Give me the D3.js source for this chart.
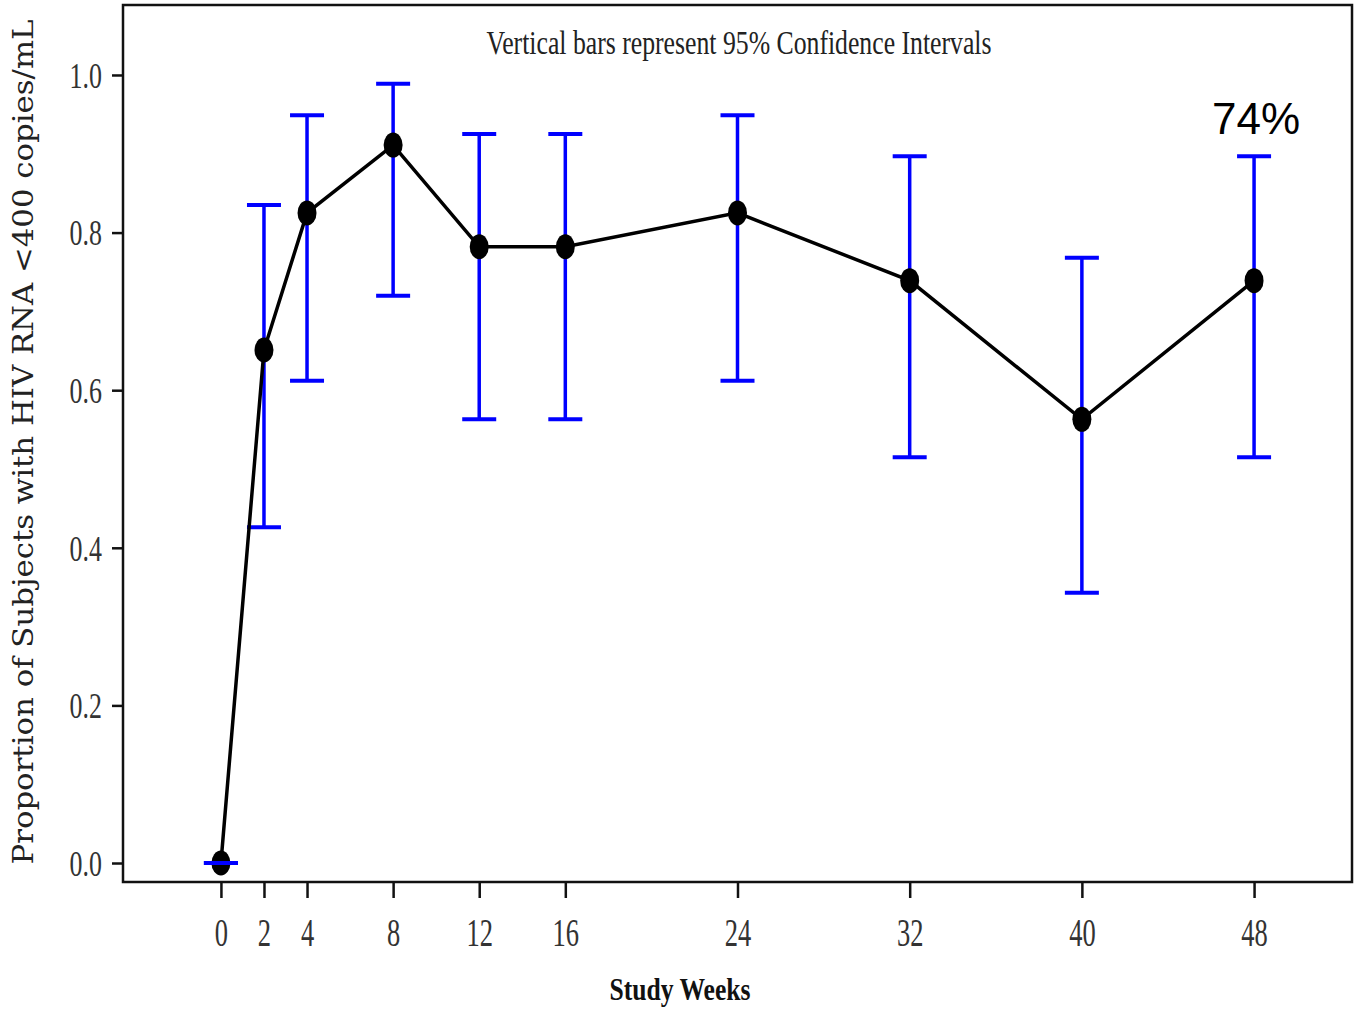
<!DOCTYPE html>
<html>
<head>
<meta charset="utf-8">
<script src="https://cdn.jsdelivr.net/npm/d3@7"></script>
<style>
  body { margin: 0; background: #fff; }
  svg { display: block; }
</style>
</head>
<body>
<div id="chart"></div>
<script>
// Data
const weeks = [0, 2, 4, 8, 12, 16, 24, 32, 40, 48];
const proportion = [0.0, 0.651, 0.825, 0.911, 0.782, 0.782, 0.825, 0.739, 0.563, 0.739];
const ciLow = [0.0, 0.426, 0.612, 0.720, 0.563, 0.563, 0.612, 0.515, 0.343, 0.515];
const ciHigh = [0.0, 0.835, 0.949, 0.989, 0.925, 0.925, 0.949, 0.897, 0.768, 0.897];
const yTicks = [0.0, 0.2, 0.4, 0.6, 0.8, 1.0];

const WIDTH = 1362;
const HEIGHT = 1013;
const LEFT = 123, RIGHT = 1352, TOP = 5, BOTTOM = 882;
const SERIF = '"Liberation Serif", "Times New Roman", serif';

const svg = d3.select('#chart')
    .append('svg').attr('width', WIDTH).attr('height', HEIGHT);

const x = d3.scaleLinear().domain([-4.55, 52.55]).range([LEFT, RIGHT]);
const y = d3.scaleLinear().domain([-0.0241, 1.0888]).range([BOTTOM, TOP]);

// Frame
svg.append('rect')
    .attr('x', LEFT).attr('y', TOP)
    .attr('width', RIGHT - LEFT).attr('height', BOTTOM - TOP)
    .attr('fill', 'none').attr('stroke', '#111').attr('stroke-width', 2.5);

// Axes
const yAxis = d3.axisLeft(y).tickValues(yTicks).tickFormat(d3.format('.1f'))
    .tickSize(11).tickPadding(10);
const gy = svg.append('g').attr('transform', `translate(${LEFT},0)`).call(yAxis);
gy.select('.domain').remove();
gy.selectAll('line').attr('stroke', '#111').attr('stroke-width', 2.5);
gy.selectAll('text')
    .attr('font-family', SERIF).attr('font-size', 36).attr('fill', '#333')
    .attr('dy', '0.34em')
    .attr('transform', function () {
        const tx = +d3.select(this).attr('x');
        return `translate(${tx},0) scale(0.72,1) translate(${-tx},0)`;
    });

const xAxis = d3.axisBottom(x).tickValues(weeks).tickFormat(d3.format('d'))
    .tickSize(16).tickPadding(20);
const gx = svg.append('g').attr('transform', `translate(0,${BOTTOM})`).call(xAxis);
gx.select('.domain').remove();
gx.selectAll('line').attr('stroke', '#111').attr('stroke-width', 2.5);
gx.selectAll('text')
    .attr('font-family', SERIF).attr('font-size', 39).attr('fill', '#333')
    .attr('transform', 'scale(0.68,1)');

// Error bars
const bars = svg.append('g');
weeks.forEach((w, i) => {
    const cx = x(w);
    bars.append('line')
        .attr('x1', cx).attr('x2', cx).attr('y1', y(ciLow[i])).attr('y2', y(ciHigh[i]))
        .attr('stroke', '#0000ff').attr('stroke-width', 3.5);
    [ciLow[i], ciHigh[i]].forEach(v => {
        bars.append('line')
            .attr('x1', cx - 17).attr('x2', cx + 17).attr('y1', y(v)).attr('y2', y(v))
            .attr('stroke', '#0000ff').attr('stroke-width', 4);
    });
});

// Mean line
const line = d3.line().x((d, i) => x(weeks[i])).y(d => y(d));
svg.append('path')
    .datum(proportion)
    .attr('d', line)
    .attr('fill', 'none').attr('stroke', '#000').attr('stroke-width', 3.5);

// Markers
svg.append('g').selectAll('ellipse')
    .data(proportion)
    .join('ellipse')
    .attr('cx', (d, i) => x(weeks[i])).attr('cy', d => y(d))
    .attr('rx', 9.5).attr('ry', 12.5).attr('fill', '#000');

// blue cap at week 0 sits on top of the marker
svg.append('line')
    .attr('x1', x(0) - 17).attr('x2', x(0) + 17).attr('y1', y(0)).attr('y2', y(0))
    .attr('stroke', '#0000ff').attr('stroke-width', 4);

// Title inside plot
svg.append('text')
    .attr('transform', `translate(739,54) scale(0.78,1)`)
    .attr('text-anchor', 'middle')
    .attr('font-family', SERIF).attr('font-size', 33).attr('fill', '#222')
    .text('Vertical bars represent 95% Confidence Intervals');

// Annotation
svg.append('text')
    .attr('x', x(48) + 2).attr('y', 134)
    .attr('text-anchor', 'middle')
    .attr('font-family', '"Liberation Sans", Arial, sans-serif').attr('font-size', 44)
    .attr('fill', '#000')
    .text('74%');

// Axis titles
svg.append('text')
    .attr('transform', `translate(680,1000) scale(0.8,1)`)
    .attr('text-anchor', 'middle')
    .attr('font-family', SERIF).attr('font-size', 32).attr('font-weight', 'bold').attr('fill', '#111')
    .text('Study Weeks');

svg.append('text')
    .attr('transform', `translate(33,442) rotate(-90)`)
    .attr('text-anchor', 'middle')
    .attr('font-family', '"DejaVu Serif", serif').attr('font-size', 27).attr('fill', '#222')
    .attr('textLength', 845).attr('lengthAdjust', 'spacingAndGlyphs')
    .text('Proportion of Subjects with HIV RNA <400 copies/mL');
</script>
</body>
</html>
